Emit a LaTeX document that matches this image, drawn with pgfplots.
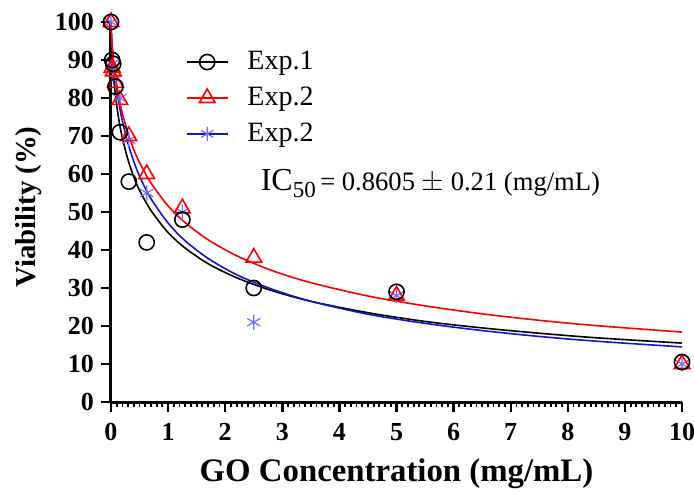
\documentclass[border=0pt]{standalone}
\usepackage{pgfplots}
\pgfplotsset{compat=1.18}
\usepackage{fontspec}
\setmainfont{Liberation Serif}
\definecolor{myblue}{RGB}{20,20,210}
\definecolor{starblue}{RGB}{110,110,255}
\begin{document}
\begin{tikzpicture}
\path[use as bounding box] (-55.5pt,-45.5pt) rectangle (291.5pt,201pt);
\begin{axis}[
  scale only axis,
  width=285.5pt, height=190pt,
  xmin=0, xmax=10, ymin=0, ymax=100,
  axis x line=bottom, axis y line=left,
  axis line style={line width=1.5pt,-},
  xtick={0,1,...,10}, ytick={0,10,...,100},
  minor x tick num=9,
  tick align=outside,
  major tick length=5pt, minor tick length=2.5pt,
  every tick/.style={black,line width=1.2pt},
  minor tick style={line width=0.9pt},
  /pgf/number format/assume math mode=true,
  ticklabel style={font=\fontsize{13}{15}\selectfont\bfseries},
  xticklabel style={yshift=-2pt},
  xlabel={GO Concentration (mg/mL)},
  ylabel={Viability (\%)},
  xlabel style={font=\fontsize{16.4}{19}\selectfont\bfseries,at={(axis description cs:0.5,-0.19)},anchor=center},
  ylabel style={font=\fontsize{14.4}{17}\selectfont\bfseries,at={(axis description cs:-0.145,0.513)},anchor=center},
  clip=false,
  legend style={at={(0.12,0.945)},anchor=north west,draw=none,fill=none,
    font=\fontsize{14}{16}\selectfont,row sep=3.2pt,column sep=7.5pt},
  legend cell align=left,
  legend image code/.code={\draw[mark repeat=2,mark phase=2] plot coordinates {(0cm,0cm)(0.36cm,0cm)(0.72cm,0cm)};},
]
\addlegendimage{black,line width=0.8pt,mark=o,mark size=3.8pt,mark options={line width=0.8pt}}
\addlegendentry{Exp.1}
\addlegendimage{red,line width=0.8pt,mark=triangle,mark size=4.5pt,mark options={line width=0.8pt}}
\addlegendentry{Exp.2}
\addlegendimage{myblue,line width=0.8pt,mark=asterisk,mark size=3.5pt,mark options={starblue,line width=0.6pt}}
\addlegendentry{Exp.2}

% fitted curves
\addplot[forget plot,black,line width=0.8pt,smooth,no marks] coordinates {
(0,100)(0.005,96.05)(0.01,93.97)(0.02,90.89)(0.04,86.47)(0.07,81.68)(0.1,78.0)(0.15,73.2)(0.2,69.4)(0.3,63.6)(0.4,59.2)(0.5,55.7)(0.7,50.4)(1,44.6)(1.3,40.5)(1.7,36.4)(2.2,32.7)(2.8,29.4)(3.5,26.5)(4.5,23.5)(5.5,21.2)(6.5,19.5)(7.5,18.1)(8.5,16.9)(10,15.5)};
\addplot[forget plot,myblue,line width=0.8pt,smooth,no marks] coordinates {
(0,100)(0.005,97.6)(0.01,96.1)(0.02,93.7)(0.04,90.0)(0.07,85.8)(0.1,82.4)(0.15,77.7)(0.2,73.9)(0.3,67.9)(0.4,63.3)(0.5,59.4)(0.7,53.5)(1,47.1)(1.3,42.4)(1.7,37.8)(2.2,33.5)(2.8,29.8)(3.5,26.5)(4.5,23.1)(5.5,20.7)(6.5,18.8)(7.5,17.25)(8.5,16.0)(10,14.5)};
\addplot[forget plot,red,line width=0.8pt,smooth,no marks] coordinates {
(0,100)(0.005,97.4)(0.01,96.0)(0.02,93.7)(0.04,90.3)(0.07,86.5)(0.1,83.4)(0.15,79.3)(0.2,75.9)(0.3,70.6)(0.4,66.4)(0.5,63.0)(0.7,57.6)(1,51.6)(1.3,47.2)(1.7,42.7)(2.2,38.5)(2.8,34.7)(3.5,31.4)(4.5,27.9)(5.5,25.3)(6.5,23.2)(7.5,21.5)(8.5,20.1)(10,18.4)};

% data points
\addplot[forget plot,only marks,mark=asterisk,mark size=3.8pt,mark options={starblue,line width=0.6pt}] coordinates {
(0,100)(0.0195,89)(0.039,88)(0.078,85)(0.156,80)(0.3125,69)(0.625,55)(1.25,50)(2.5,21)(5,28)(10,10)};
\addplot[forget plot,only marks,mark=triangle,mark size=4.5pt,mark options={red,line width=0.8pt}] coordinates {
(0,100)(0.0195,88)(0.039,87)(0.078,84)(0.156,79.5)(0.3125,70)(0.625,60)(1.25,51)(2.5,38)(5,28)(10,10)};
\addplot[forget plot,only marks,mark=o,mark size=3.8pt,mark options={black,line width=0.8pt}] coordinates {
(0,100)(0.0195,90)(0.039,89)(0.078,83)(0.156,71)(0.3125,58)(0.625,42)(1.25,48)(2.5,30)(5,29)(10,10.5)};

\node[anchor=west,font=\fontsize{13.3}{15}\selectfont] at (axis cs:2.5,57.5) {{\fontsize{16}{18}\selectfont IC}\raisebox{-0.55ex}{\fontsize{11.5}{12}\selectfont 50}\,= 0.8605 $\pm$ 0.21 (mg/mL)};
\end{axis}
\end{tikzpicture}
\end{document}
